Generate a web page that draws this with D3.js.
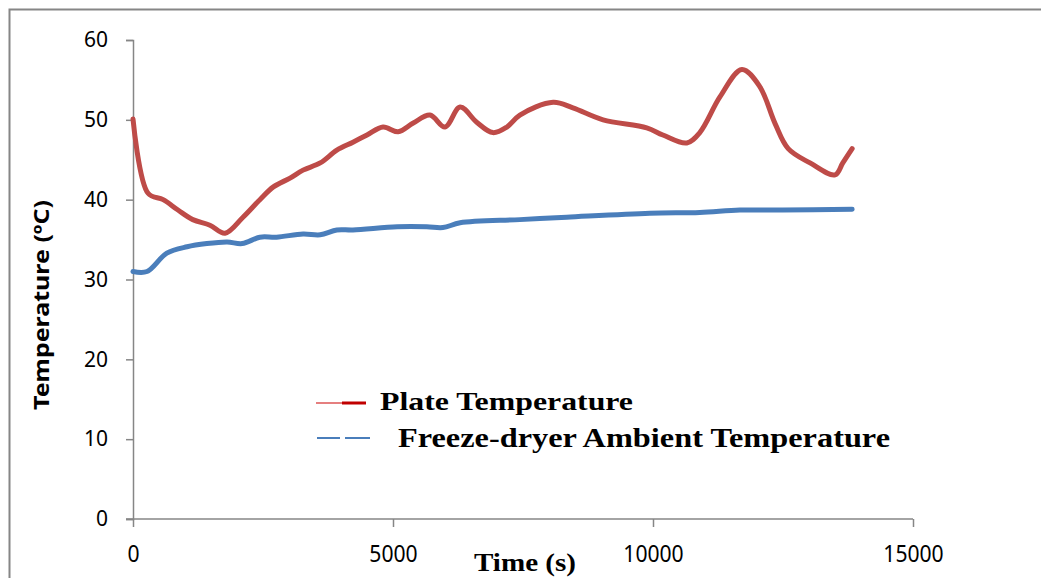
<!DOCTYPE html>
<html>
<head>
<meta charset="utf-8">
<script src="https://cdn.jsdelivr.net/npm/d3@7"></script>
<style>
  html, body { margin: 0; padding: 0; background: #fff; }
  svg { display: block; }
</style>
</head>
<body>
<div id="chart"></div>
<script>
// plate temperature
const plateTime = [0, 290, 580, 865, 1150, 1480, 1770, 2115, 2440, 2700, 3020, 3270, 3600, 3920, 4230, 4500, 4810, 5100, 5390, 5710, 6000, 6290, 6610, 6920, 7190, 7440, 8080, 8460, 9040, 9880, 10190, 10650, 10900, 11290, 11710, 12050, 12350, 12600, 13020, 13500, 13650, 13830];
const plateTemp = [50.1, 40.8, 40, 38.7, 37.5, 36.8, 35.8, 37.8, 40, 41.6, 42.7, 43.7, 44.6, 46.2, 47.2, 48.1, 49.1, 48.5, 49.6, 50.6, 49.1, 51.6, 49.7, 48.4, 49.1, 50.6, 52.2, 51.5, 50, 49, 48.1, 47.1, 48.4, 52.9, 56.3, 54.2, 49.5, 46.4, 44.6, 43.1, 44.6, 46.4];
// freeze-dryer ambient temperature
const ambientTime = [0, 270, 650, 1040, 1420, 1810, 2100, 2440, 2760, 3270, 3600, 3920, 4230, 5080, 5650, 5960, 6290, 7440, 8340, 9940, 10900, 11670, 12500, 13830];
const ambientTemp = [31, 31, 33.3, 34.1, 34.5, 34.7, 34.5, 35.3, 35.3, 35.7, 35.6, 36.2, 36.2, 36.6, 36.6, 36.5, 37.1, 37.5, 37.8, 38.3, 38.4, 38.7, 38.7, 38.8];

const xTicks = [0, 5000, 10000, 15000];
const yTicks = [0, 10, 20, 30, 40, 50, 60];
const seriesNames = ['Plate Temperature', 'Freeze-dryer Ambient Temperature'];

const width = 1041;
const height = 578;
const axisColor = '#868686';

const svg = d3.select('#chart')
  .append('svg')
  .attr('width', width)
  .attr('height', height);

// outer chart frame (runs off the right and bottom edges)
svg.append('rect')
  .attr('x', 9.5)
  .attr('y', 9.5)
  .attr('width', 1100)
  .attr('height', 700)
  .attr('fill', 'none')
  .attr('stroke', axisColor)
  .attr('stroke-width', 2);

const x = d3.scaleLinear().domain([0, 15000]).range([133, 913]);
const y = d3.scaleLinear().domain([0, 60]).range([519, 40]);

// y axis
const yAxis = svg.append('g')
  .attr('transform', `translate(${x(0)},0)`)
  .call(d3.axisLeft(y).tickValues(yTicks).tickSize(7).tickPadding(18));
yAxis.select('.domain').attr('stroke', axisColor).attr('stroke-width', 1.5);
yAxis.selectAll('.tick line').attr('stroke', axisColor).attr('stroke-width', 1.5);
yAxis.selectAll('.tick text')
  .attr('font-family', 'Noto Sans, sans-serif')
  .attr('font-size', 21)
  .attr('fill', '#000');

// x axis
const xAxis = svg.append('g')
  .attr('transform', `translate(0,${y(0)})`)
  .call(d3.axisBottom(x).tickValues(xTicks).tickFormat(d3.format('d')).tickSize(8).tickPadding(18));
xAxis.select('.domain').attr('stroke', axisColor).attr('stroke-width', 1.5)
  .attr('d', `M${x(0) - 7},0H${x(15000)}`);
xAxis.selectAll('.tick line').attr('stroke', axisColor).attr('stroke-width', 1.5);
xAxis.selectAll('.tick text')
  .attr('font-family', 'Noto Sans, sans-serif')
  .attr('font-size', 24)
  .attr('transform', 'scale(0.88,1)')
  .attr('fill', '#000');

// axis titles
svg.append('text')
  .attr('transform', 'translate(49,305) rotate(-90)')
  .attr('text-anchor', 'middle')
  .attr('font-family', 'Noto Sans, sans-serif')
  .attr('font-weight', 'bold')
  .attr('font-size', 21)
  .attr('textLength', 210)
  .attr('lengthAdjust', 'spacingAndGlyphs')
  .text('Temperature (ºC)');

svg.append('text')
  .attr('x', 474)
  .attr('y', 571)
  .attr('font-family', 'Liberation Serif, serif')
  .attr('font-weight', 'bold')
  .attr('font-size', 26)
  .attr('textLength', 102)
  .attr('lengthAdjust', 'spacingAndGlyphs')
  .text('Time (s)');

// lines
const line = d3.line()
  .x((d) => x(d[0]))
  .y((d) => y(d[1]))
  .curve(d3.curveCatmullRom.alpha(0.5));

const plateData = plateTime.map((t, i) => [t, plateTemp[i]]);
const ambientData = ambientTime.map((t, i) => [t, ambientTemp[i]]);

svg.append('path')
  .datum(ambientData)
  .attr('d', line)
  .attr('fill', 'none')
  .attr('stroke', '#4a7ebb')
  .attr('stroke-width', 5)
  .attr('stroke-linecap', 'round')
  .attr('stroke-linejoin', 'round');

svg.append('path')
  .datum(plateData)
  .attr('d', line)
  .attr('fill', 'none')
  .attr('stroke', '#be4b48')
  .attr('stroke-width', 5)
  .attr('stroke-linecap', 'round')
  .attr('stroke-linejoin', 'round');

// legend
const legend = svg.append('g');
legend.append('line')
  .attr('x1', 316).attr('x2', 342).attr('y1', 403).attr('y2', 403)
  .attr('stroke', '#d42a2a').attr('stroke-width', 1.2);
legend.append('line')
  .attr('x1', 342).attr('x2', 366).attr('y1', 403).attr('y2', 403)
  .attr('stroke', '#c00000').attr('stroke-width', 3);
legend.append('line')
  .attr('x1', 317).attr('x2', 340).attr('y1', 438).attr('y2', 438)
  .attr('stroke', '#4a7ebb').attr('stroke-width', 2);
legend.append('line')
  .attr('x1', 345).attr('x2', 370).attr('y1', 438).attr('y2', 438)
  .attr('stroke', '#4a7ebb').attr('stroke-width', 2);

legend.append('text')
  .attr('x', 380).attr('y', 410)
  .attr('font-family', 'Liberation Serif, serif')
  .attr('font-weight', 'bold')
  .attr('font-size', 25)
  .attr('textLength', 253)
  .attr('lengthAdjust', 'spacingAndGlyphs')
  .text(seriesNames[0]);
legend.append('text')
  .attr('x', 398).attr('y', 447)
  .attr('font-family', 'Liberation Serif, serif')
  .attr('font-weight', 'bold')
  .attr('font-size', 28)
  .attr('textLength', 492)
  .attr('lengthAdjust', 'spacingAndGlyphs')
  .text(seriesNames[1]);
</script>
</body>
</html>
